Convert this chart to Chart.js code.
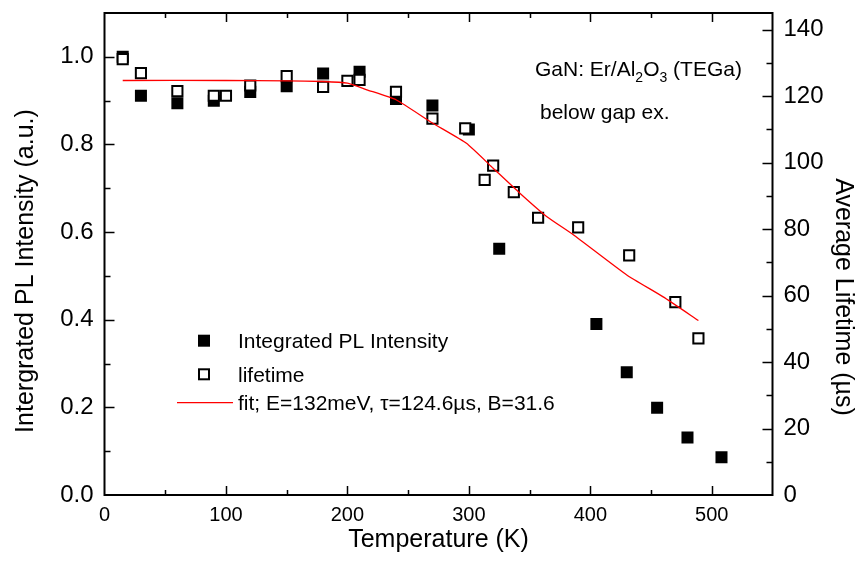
<!DOCTYPE html>
<html>
<head>
<meta charset="utf-8">
<script src="https://cdn.jsdelivr.net/npm/chart.js@4.4.1/dist/chart.umd.min.js"></script>
<style>
  html, body { margin: 0; padding: 0; background: #fff; }
</style>
</head>
<body>
<canvas id="plot" width="858" height="566"></canvas>
<script>
// integrated PL intensity (left axis, a.u.)
var plTemp = [15, 30, 60, 90, 120, 150, 180, 210, 240, 270, 300, 325, 405, 430, 455, 480, 508];
var plValue = [1.0, 0.911, 0.894, 0.90, 0.92, 0.933, 0.962, 0.966, 0.904, 0.889, 0.834, 0.562, 0.390, 0.280, 0.199, 0.131, 0.086];

// average lifetime (right axis, us)
var lifeTemp = [15, 30, 60, 90, 100, 120, 150, 180, 200, 210, 240, 270, 297, 313, 320, 337, 357, 390, 432, 470, 489];
var lifeValue = [131.1, 126.9, 121.5, 120.1, 120.1, 123.2, 126.0, 122.8, 124.6, 124.9, 121.3, 113.2, 110.3, 94.8, 99.1, 91.1, 83.4, 80.5, 72.1, 58.0, 47.1];

// fit curve (right axis)
var fitTemp = [15, 100, 150, 180, 200, 216, 240, 270, 298, 320, 342, 364, 386, 430, 460, 489];
var fitValue = [124.7, 124.7, 124.6, 124.4, 123.9, 121.9, 118.9, 111.9, 105.8, 98.3, 90.8, 83.8, 78.3, 66.2, 59.6, 52.5];

var xTicks = [0, 100, 200, 300, 400, 500];
var xMinor = [50, 150, 250, 350, 450];
var leftTicks = [0, 0.2, 0.4, 0.6, 0.8, 1.0];
var leftMinor = [0.1, 0.3, 0.5, 0.7, 0.9];
var rightTicks = [0, 20, 40, 60, 80, 100, 120, 140];
var rightMinor = [10, 30, 50, 70, 90, 110, 130];

function pairs(xs, ys) {
    return xs.map(function (x, i) { return {x: x, y: ys[i]}; });
}

var FONT = "'Liberation Sans', Arial, sans-serif";

var frame = {
    id: 'frame',
    afterDraw: function (chart) {
        var ctx = chart.ctx, a = chart.chartArea, s = chart.scales;
        ctx.save();
        ctx.strokeStyle = '#000';
        ctx.lineWidth = 2;
        ctx.strokeRect(a.left, a.top, a.right - a.left, a.bottom - a.top);

        // inward ticks
        ctx.lineWidth = 1.5;
        ctx.beginPath();
        function vt(list, len) {
            list.forEach(function (v) {
                var px = Math.round(s.x.getPixelForValue(v)) + 0.5;
                ctx.moveTo(px, a.bottom); ctx.lineTo(px, a.bottom - len);
                ctx.moveTo(px, a.top); ctx.lineTo(px, a.top + len);
            });
        }
        vt(xTicks.slice(1), 9);
        vt(xMinor, 5);
        function ht(scale, list, len, side) {
            list.forEach(function (v) {
                var py = Math.round(scale.getPixelForValue(v)) + 0.5;
                if (side === 'l') { ctx.moveTo(a.left, py); ctx.lineTo(a.left + len, py); }
                else { ctx.moveTo(a.right, py); ctx.lineTo(a.right - len, py); }
            });
        }
        ht(s.y, leftTicks.slice(1), 10, 'l');
        ht(s.y, leftMinor, 6, 'l');
        ht(s.y1, rightTicks.slice(1), 10, 'r');
        ht(s.y1, rightMinor, 6, 'r');
        ctx.stroke();

        ctx.fillStyle = '#000';
        ctx.textBaseline = 'alphabetic';

        // axis titles
        ctx.font = '25px ' + FONT;
        ctx.textAlign = 'center';
        ctx.fillText('Temperature (K)', (a.left + a.right) / 2, 547);
        ctx.save();
        ctx.translate(33, 271);
        ctx.rotate(-Math.PI / 2);
        ctx.fillText('Intergrated PL Intensity (a.u.)', 0, 0);
        ctx.restore();
        ctx.save();
        ctx.translate(836, 297);
        ctx.rotate(Math.PI / 2);
        ctx.fillText('Average Lifetime (\u00b5s)', 0, 0);
        ctx.restore();
        ctx.textAlign = 'left';

        // sample label
        var x = 535, base = 76;
        var parts = [['GaN: Er/Al', 0], ['2', 1], ['O', 0], ['3', 1], [' (TEGa)', 0]];
        parts.forEach(function (p) {
            ctx.font = (p[1] ? '14px ' : '21px ') + FONT;
            ctx.fillText(p[0], x, base + (p[1] ? 6 : 0));
            x += ctx.measureText(p[0]).width;
        });
        ctx.font = '21px ' + FONT;
        ctx.fillText('below gap ex.', 540, 119);

        // legend
        ctx.fillRect(198, 334.7, 12, 12);
        ctx.lineWidth = 2;
        ctx.fillStyle = '#fff';
        ctx.fillRect(199, 369.3, 10, 10);
        ctx.strokeRect(199, 369.3, 10, 10);
        ctx.strokeStyle = '#ff0000';
        ctx.lineWidth = 1.3;
        ctx.beginPath();
        ctx.moveTo(177, 402.7); ctx.lineTo(233, 402.7);
        ctx.stroke();
        ctx.fillStyle = '#000';
        ctx.font = '21px ' + FONT;
        ctx.fillText('Integrated PL Intensity', 238, 348);
        ctx.fillText('lifetime', 238, 381.5);
        ctx.fillText('fit; E=132meV, \u03c4=124.6\u00b5s, B=31.6', 238, 410);
        ctx.restore();
    }
};

function noPad(s) {
    s.paddingTop = 0; s.paddingBottom = 0; s.paddingLeft = 0; s.paddingRight = 0;
}

var context = document.getElementById('plot').getContext('2d');
var chart = new Chart(context, {
    type: 'scatter',
    data: {
        datasets: [{
            label: 'fit',
            type: 'line',
            data: pairs(fitTemp, fitValue),
            yAxisID: 'y1',
            borderColor: '#ff0000',
            borderWidth: 1.3,
            pointRadius: 0,
            fill: false,
            tension: 0.15,
            order: 0
        }, {
            label: 'lifetime',
            data: pairs(lifeTemp, lifeValue),
            yAxisID: 'y1',
            pointStyle: 'rect',
            pointRadius: 7.2,
            pointBackgroundColor: '#fff',
            pointBorderColor: '#000',
            pointBorderWidth: 2,
            order: 1
        }, {
            label: 'Integrated PL Intensity',
            data: pairs(plTemp, plValue),
            yAxisID: 'y',
            pointStyle: 'rect',
            pointRadius: 8.5,
            pointBackgroundColor: '#000',
            pointBorderColor: '#000',
            pointBorderWidth: 0,
            order: 2
        }]
    },
    options: {
        responsive: false,
        animation: false,
        layout: { padding: { top: 13, left: 0, right: 0, bottom: 0 } },
        plugins: {
            legend: { display: false },
            tooltip: { enabled: false }
        },
        scales: {
            x: {
                type: 'linear',
                min: 0, max: 550,
                afterBuildTicks: function (s) { s.ticks = xTicks.map(function (v) { return {value: v}; }); },
                afterFit: function (s) { s.height = 71; noPad(s); },
                grid: { display: false, drawTicks: false },
                border: { display: false },
                ticks: { color: '#000', font: { family: FONT, size: 20 }, padding: 8, maxRotation: 0 }
            },
            y: {
                position: 'left',
                min: 0, max: 1.1,
                afterBuildTicks: function (s) { s.ticks = leftTicks.map(function (v) { return {value: v}; }); },
                afterFit: function (s) { s.width = 104.5; noPad(s); },
                grid: { display: false, drawTicks: false },
                border: { display: false },
                ticks: { color: '#000', font: { family: FONT, size: 24 }, padding: 11,
                         callback: function (v) { return v.toFixed(1); } }
            },
            y1: {
                position: 'right',
                min: 0, max: 145,
                afterBuildTicks: function (s) { s.ticks = rightTicks.map(function (v) { return {value: v}; }); },
                afterFit: function (s) { s.width = 85.5; noPad(s); },
                grid: { display: false, drawTicks: false },
                border: { display: false },
                ticks: { color: '#000', font: { family: FONT, size: 24 }, padding: 11 }
            }
        }
    },
    plugins: [frame]
});
</script>
</body>
</html>
